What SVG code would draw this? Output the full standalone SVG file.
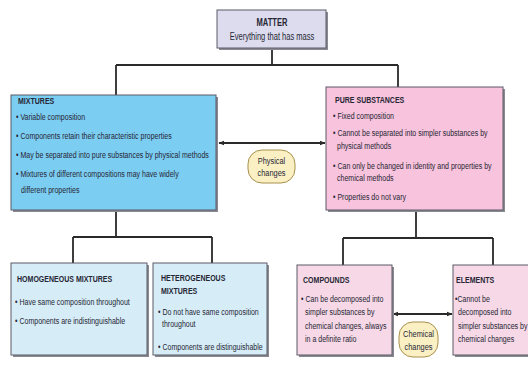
<svg xmlns="http://www.w3.org/2000/svg" width="528" height="370" viewBox="0 0 528 370">
<defs>
<style>
.box{stroke:#5a5a66;stroke-width:1}
.sh{fill:#8a8a92}
.t{font-family:"Liberation Sans",Arial,sans-serif;font-size:9.5px;fill:#262634}
.b{font-weight:bold}
.c{text-anchor:middle}
.ln{stroke:#2a2a2a;stroke-width:1.8;fill:none}
.pill{fill:#faf0c4;stroke:#a8904c;stroke-width:1}
</style>
<marker id="ah" viewBox="0 0 10 10" refX="9" refY="5" markerWidth="6" markerHeight="6" orient="auto-start-reverse" markerUnits="userSpaceOnUse">
<path d="M0,1 L10,5 L0,9 z" fill="#2a2a2a"/>
</marker>
</defs>
<rect width="528" height="370" fill="#ffffff"/>
<g id="connectors">
<path class="ln" d="M272,48 V65 M116,65 H398 M116,65 V95 M398,65 V87"/>
<path class="ln" d="M116,210 V237 M73,237 H212 M73,237 V263 M212,237 V263"/>
<path class="ln" d="M416,210 V238 M343,238 H493 M343,238 V265 M493,238 V265"/>
<line class="ln" x1="219" y1="143" x2="325" y2="143" marker-start="url(#ah)" marker-end="url(#ah)"/>
<line class="ln" x1="393" y1="314" x2="452" y2="314" marker-start="url(#ah)" marker-end="url(#ah)"/>
</g>
<g id="matter">
<rect class="sh" x="219" y="12" width="109" height="38"/>
<rect class="box" x="217" y="10" width="109" height="38" fill="#dcdcee"/>
<text class="t b c" style="font-size:10.5px" transform="matrix(0.72 0 0 1 272 26)">MATTER</text>
<text class="t c" style="font-size:10.5px" transform="matrix(0.72 0 0 1 272 40)">Everything that has mass</text>
</g>
<g id="mixtures">
<rect class="sh" x="13" y="97" width="205" height="115"/>
<rect class="box" x="11" y="95" width="205" height="115" fill="#7ccdf2"/>
<text class="t b" transform="matrix(0.74 0 0 1 18 103.5)">MIXTURES</text>
<text class="t" transform="matrix(0.74 0 0 1 16 119.5)">• Variable composition</text>
<text class="t" transform="matrix(0.74 0 0 1 16 138.5)">• Components retain their characteristic properties</text>
<text class="t" transform="matrix(0.74 0 0 1 16 157.5)">• May be separated into pure substances by physical methods</text>
<text class="t" transform="matrix(0.74 0 0 1 16 176.5)">• Mixtures of different compositions may have widely</text>
<text class="t" transform="matrix(0.74 0 0 1 21 192.5)">different properties</text>
</g>
<g id="pure">
<rect class="sh" x="328" y="89" width="177" height="123"/>
<rect class="box" x="326" y="87" width="177" height="123" fill="#f8c3dc"/>
<text class="t b" transform="matrix(0.74 0 0 1 335 102.5)">PURE SUBSTANCES</text>
<text class="t" transform="matrix(0.74 0 0 1 333 118.5)">• Fixed composition</text>
<text class="t" transform="matrix(0.74 0 0 1 333 136)">• Cannot be separated into simpler substances by</text>
<text class="t" transform="matrix(0.74 0 0 1 337 148.5)">physical methods</text>
<text class="t" transform="matrix(0.74 0 0 1 333 168.5)">• Can only be changed in identity and properties by</text>
<text class="t" transform="matrix(0.74 0 0 1 337 181)">chemical methods</text>
<text class="t" transform="matrix(0.74 0 0 1 333 200)">• Properties do not vary</text>
</g>
<g id="physical">
<rect class="pill" x="248" y="150" width="47" height="33" rx="14"/>
<text class="t c" transform="matrix(0.78 0 0 1 271.5 164)">Physical</text>
<text class="t c" transform="matrix(0.78 0 0 1 271.5 176)">changes</text>
</g>
<g id="homogeneous">
<rect class="sh" x="13" y="265" width="136" height="92"/>
<rect class="box" x="11" y="263" width="136" height="92" fill="#d6edf8"/>
<text class="t b" transform="matrix(0.74 0 0 1 17 281.5)">HOMOGENEOUS MIXTURES</text>
<text class="t" transform="matrix(0.74 0 0 1 15 305)">• Have same composition throughout</text>
<text class="t" transform="matrix(0.74 0 0 1 15 323.5)">• Components are indistinguishable</text>
</g>
<g id="heterogeneous">
<rect class="sh" x="155" y="265" width="114" height="92"/>
<rect class="box" x="153" y="263" width="114" height="92" fill="#d6edf8"/>
<text class="t b" transform="matrix(0.74 0 0 1 161 280.5)">HETEROGENEOUS</text>
<text class="t b" transform="matrix(0.74 0 0 1 161 294)">MIXTURES</text>
<text class="t" transform="matrix(0.74 0 0 1 158 314.5)">• Do not have same composition</text>
<text class="t" transform="matrix(0.74 0 0 1 162 327)">throughout</text>
<text class="t" transform="matrix(0.74 0 0 1 158 350)">• Components are distinguishable</text>
</g>
<g id="compounds">
<rect class="sh" x="299" y="267" width="95" height="90"/>
<rect class="box" x="297" y="265" width="95" height="90" fill="#f6d8e6"/>
<text class="t b" transform="matrix(0.74 0 0 1 303 283)">COMPOUNDS</text>
<text class="t" transform="matrix(0.74 0 0 1 301 302)">• Can be decomposed into</text>
<text class="t" transform="matrix(0.74 0 0 1 305 315)">simpler substances by</text>
<text class="t" transform="matrix(0.74 0 0 1 305 328.5)">chemical changes, always</text>
<text class="t" transform="matrix(0.74 0 0 1 305 342)">in a definite ratio</text>
</g>
<g id="elements">
<rect class="sh" x="455" y="267" width="80" height="90"/>
<rect class="box" x="453" y="265" width="80" height="90" fill="#f6d8e6"/>
<text class="t b" transform="matrix(0.74 0 0 1 456 283)">ELEMENTS</text>
<text class="t" transform="matrix(0.74 0 0 1 455 302)">•Cannot be</text>
<text class="t" transform="matrix(0.74 0 0 1 458 315)">decomposed into</text>
<text class="t" transform="matrix(0.74 0 0 1 458 328.5)">simpler substances by</text>
<text class="t" transform="matrix(0.74 0 0 1 458 342)">chemical changes</text>
</g>
<g id="chemical">
<rect class="pill" x="399" y="322" width="39" height="35" rx="14"/>
<text class="t c" transform="matrix(0.78 0 0 1 418.5 337)">Chemical</text>
<text class="t c" transform="matrix(0.78 0 0 1 418.5 350)">changes</text>
</g>
</svg>
